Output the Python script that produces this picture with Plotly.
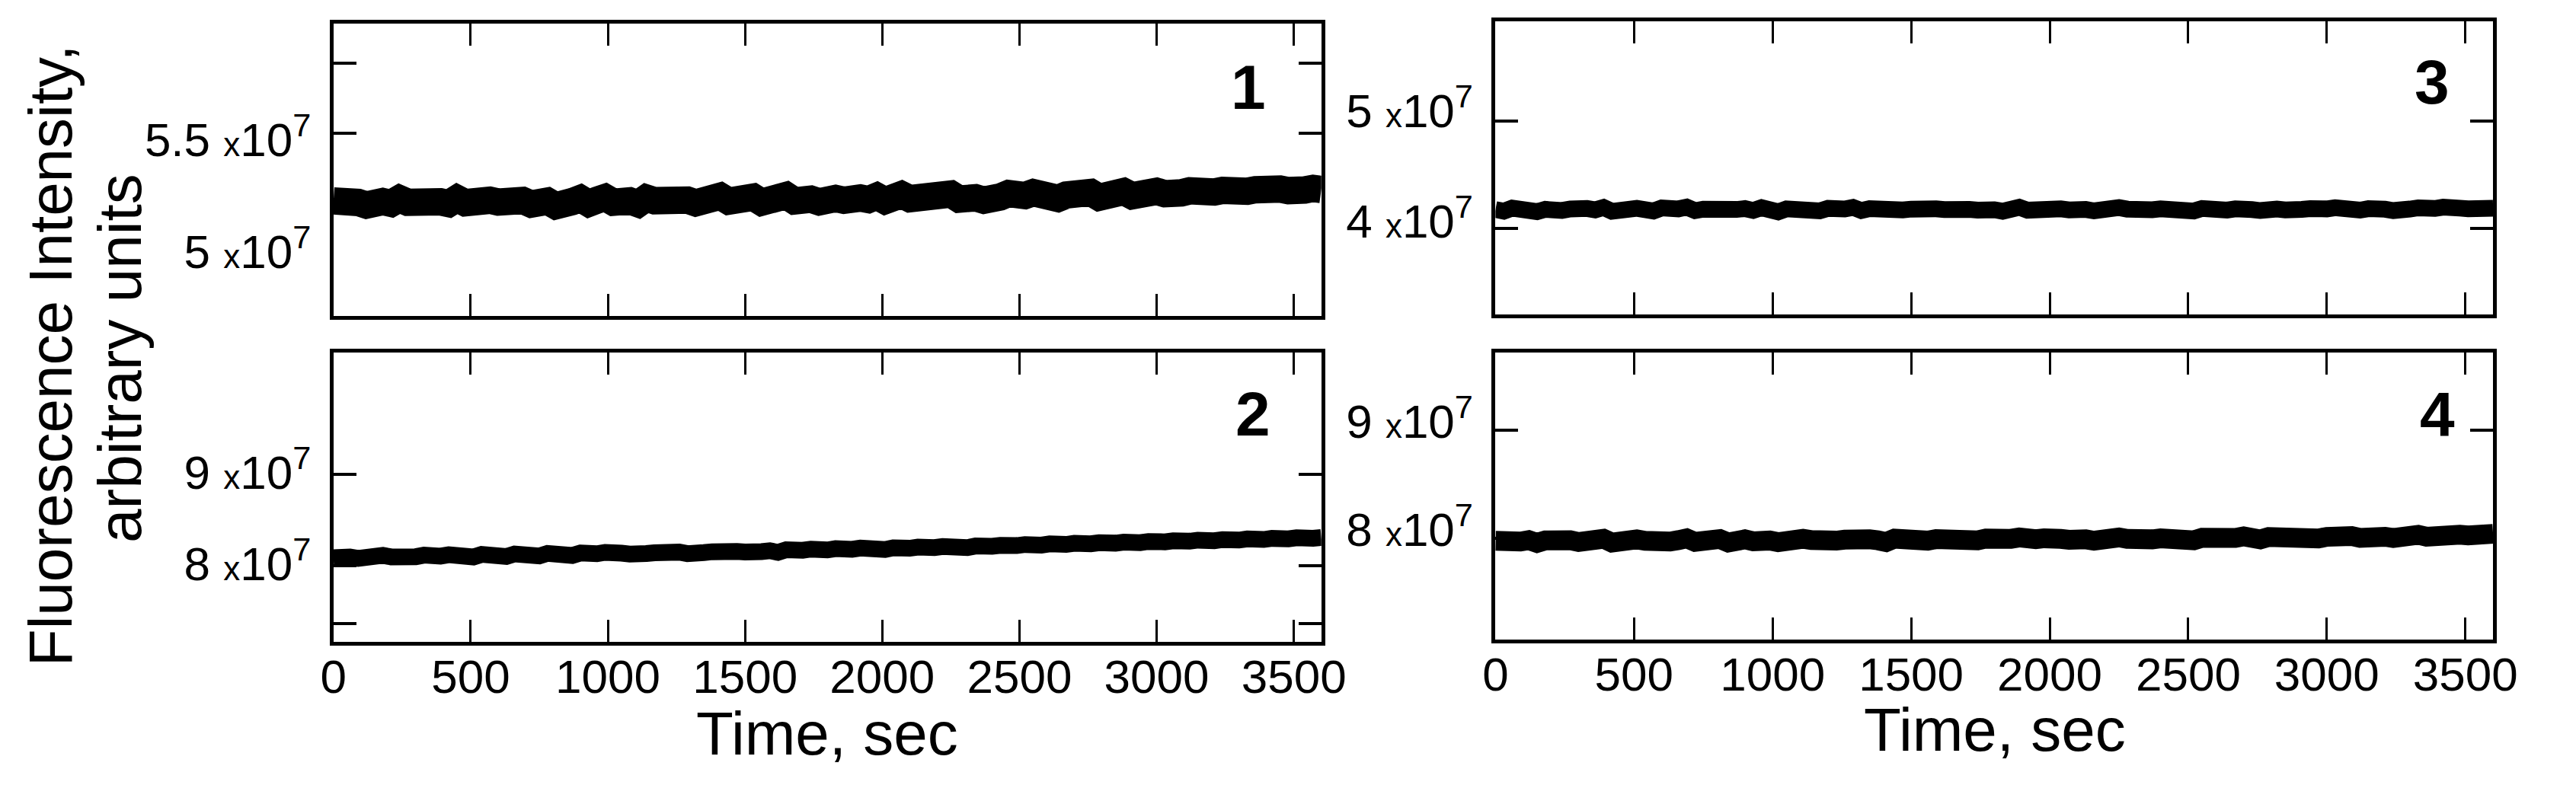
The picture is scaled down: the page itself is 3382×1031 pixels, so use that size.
import plotly.graph_objs as go

# fluorescence traces, in units of 1e7, one sample every DT seconds
SCALE = 1e7
DT = 30

trace_1 = [
    5.225, 5.212, 5.231, 5.218, 5.206, 5.229, 5.222, 5.214, 5.235, 5.219,
    5.224, 5.208, 5.230, 5.221, 5.213, 5.236, 5.217, 5.226, 5.210, 5.228,
    5.220, 5.233, 5.215, 5.227, 5.211, 5.229, 5.224, 5.203, 5.231, 5.222,
    5.236, 5.214, 5.228, 5.240, 5.219, 5.230, 5.225, 5.212, 5.238, 5.226,
    5.233, 5.221, 5.244, 5.229, 5.216, 5.237, 5.231, 5.246, 5.224, 5.235,
    5.228, 5.242, 5.219, 5.236, 5.230, 5.249, 5.225, 5.239, 5.233, 5.221,
    5.244, 5.236, 5.228, 5.251, 5.238, 5.231, 5.246, 5.226, 5.240, 5.253,
    5.235, 5.244, 5.229, 5.248, 5.241, 5.256, 5.233, 5.245, 5.239, 5.228,
    5.252, 5.243, 5.258, 5.237, 5.249, 5.262, 5.244, 5.255, 5.236, 5.251,
    5.259, 5.246, 5.263, 5.241, 5.257, 5.250, 5.267, 5.248, 5.260, 5.254,
    5.268, 5.257, 5.273, 5.261, 5.270, 5.258, 5.276, 5.265, 5.272, 5.260,
    5.279, 5.268, 5.275, 5.284, 5.266, 5.278, 5.271, 5.287, 5.274, 5.281, 5.276,
]

trace_2 = [
    8.062, 8.081, 8.070, 8.055, 8.078, 8.066, 8.089, 8.072, 8.060, 8.083,
    8.074, 8.091, 8.068, 8.080, 8.095, 8.077, 8.086, 8.071, 8.099, 8.084,
    8.092, 8.076, 8.104, 8.088, 8.097, 8.082, 8.110, 8.093, 8.101, 8.087,
    8.115, 8.098, 8.106, 8.121, 8.094, 8.112, 8.103, 8.126, 8.108, 8.117,
    8.131, 8.112, 8.124, 8.107, 8.135, 8.119, 8.128, 8.141, 8.116, 8.132,
    8.125, 8.146, 8.130, 8.139, 8.121, 8.150, 8.136, 8.144, 8.157, 8.133,
    8.148, 8.162, 8.141, 8.155, 8.168, 8.147, 8.160, 8.152, 8.171, 8.158,
    8.166, 8.179, 8.161, 8.174, 8.185, 8.167, 8.180, 8.173, 8.191, 8.176,
    8.188, 8.198, 8.182, 8.195, 8.207, 8.189, 8.201, 8.214, 8.196, 8.208,
    8.220, 8.203, 8.215, 8.227, 8.209, 8.222, 8.233, 8.214, 8.228, 8.240,
    8.224, 8.236, 8.247, 8.229, 8.243, 8.255, 8.237, 8.249, 8.261, 8.244,
    8.256, 8.268, 8.250, 8.262, 8.274, 8.258, 8.269, 8.281, 8.263, 8.275, 8.284,
]

trace_3 = [
    4.102, 4.088, 4.115, 4.097, 4.109, 4.083, 4.104, 4.118, 4.094, 4.107,
    4.091, 4.112, 4.099, 4.121, 4.086, 4.105, 4.096, 4.113, 4.101, 4.089,
    4.117, 4.095, 4.108, 4.124, 4.092, 4.106, 4.099, 4.115, 4.087, 4.103,
    4.111, 4.094, 4.119, 4.100, 4.081, 4.108, 4.097, 4.116, 4.104, 4.090,
    4.113, 4.098, 4.107, 4.122, 4.093, 4.110, 4.101, 4.085, 4.114, 4.099,
    4.106, 4.118, 4.095, 4.109, 4.102, 4.091, 4.116, 4.104, 4.097, 4.112,
    4.100, 4.087, 4.110, 4.123, 4.096, 4.105, 4.114, 4.092, 4.108, 4.099,
    4.117, 4.103, 4.090, 4.111, 4.098, 4.120, 4.106, 4.094, 4.113, 4.101,
    4.109, 4.096, 4.118, 4.104, 4.089, 4.112, 4.100, 4.115, 4.097, 4.108,
    4.121, 4.102, 4.093, 4.114, 4.106, 4.099, 4.117, 4.104, 4.111, 4.095,
    4.108, 4.119, 4.101, 4.113, 4.097, 4.110, 4.122, 4.105, 4.093, 4.116,
    4.107, 4.118, 4.100, 4.112, 4.124, 4.103, 4.115, 4.109, 4.120, 4.106, 4.114,
]

trace_4 = [
    7.892, 7.878, 7.905, 7.886, 7.899, 7.873, 7.896, 7.910, 7.884, 7.898,
    7.881, 7.903, 7.889, 7.912, 7.876, 7.897, 7.887, 7.906, 7.893, 7.879,
    7.908, 7.886, 7.899, 7.915, 7.883, 7.902, 7.891, 7.909, 7.877, 7.898,
    7.906, 7.888, 7.914, 7.895, 7.880, 7.904, 7.893, 7.911, 7.899, 7.885,
    7.909, 7.894, 7.903, 7.918, 7.888, 7.906, 7.897, 7.881, 7.912, 7.899,
    7.905, 7.917, 7.894, 7.908, 7.901, 7.889, 7.915, 7.903, 7.896, 7.913,
    7.902, 7.889, 7.911, 7.924, 7.897, 7.907, 7.916, 7.893, 7.910, 7.902,
    7.920, 7.906, 7.893, 7.915, 7.902, 7.924, 7.910, 7.898, 7.918, 7.906,
    7.915, 7.902, 7.925, 7.911, 7.897, 7.921, 7.909, 7.926, 7.908, 7.919,
    7.933, 7.914, 7.905, 7.928, 7.920, 7.913, 7.934, 7.921, 7.929, 7.914,
    7.929, 7.941, 7.923, 7.936, 7.920, 7.934, 7.947, 7.930, 7.918, 7.942,
    7.935, 7.948, 7.930, 7.943, 7.956, 7.936, 7.949, 7.942, 7.955, 7.944, 7.957,
]

panel_labels = ["1", "2", "3", "4"]
x_ticks = [0, 500, 1000, 1500, 2000, 2500, 3000, 3500]
y_label_ticks = [[5.0, 5.5], [8, 9], [4, 5], [8, 9]]
y_label_text = [["5", "5.5"], ["8", "9"], ["4", "5"], ["8", "9"]]

W, H = 3382, 1031
FONT = "Liberation Sans"


def dom_x(left, right):
    return [left / W, right / W]


def dom_y(top, bottom):
    return [1 - bottom / H, 1 - top / H]


def exp_label(m):
    return f"{m} <span style='font-size:44px'>x</span>10<sup>7</sup>"


def note(text, px, py, size, angle=0):
    return dict(
        text=text,
        x=px / W,
        y=1 - py / H,
        xref="paper",
        yref="paper",
        xanchor="center",
        yanchor="middle",
        textangle=angle,
        showarrow=False,
        font=dict(size=size, family=FONT, color="black"),
    )


# pixel boxes of the four panels (left, right, top, bottom)
boxes = [
    (427, 1743, 31, 415),
    (427, 1743, 463, 843),
    (1975, 3304, 28, 413),
    (1975, 3304, 463, 840),
]
y_ranges = [(4.711, 6.017), (7.142, 10.308), (3.152, 5.807), (6.979, 9.634)]
y_marks = [[5.527, 5.840], [7.342, 7.975, 8.975], [3.931, 4.903], [7.915, 8.915]]
line_widths = [36, 22, 22, 26]

traces = []
for i, vals in enumerate([trace_1, trace_2, trace_3, trace_4]):
    traces.append(
        go.Scatter(
            x0=0,
            dx=DT,
            y=[v * SCALE for v in vals],
            mode="lines",
            line=dict(color="black", width=line_widths[i]),
            xaxis=f"x{i + 1}" if i else "x",
            yaxis=f"y{i + 1}" if i else "y",
            hoverinfo="skip",
        )
    )

layout = go.Layout(
    width=W,
    height=H,
    margin=dict(l=0, r=0, t=0, b=0),
    paper_bgcolor="white",
    plot_bgcolor="white",
    showlegend=False,
    font=dict(family=FONT, color="black", size=62),
)

for i, (l, r, t, b) in enumerate(boxes):
    key = "" if i == 0 else str(i + 1)
    bottom_row = i in (1, 3)
    layout[f"xaxis{key}"] = dict(
        domain=dom_x(l, r),
        anchor=f"y{key}",
        range=[0, 3600],
        tickmode="array",
        tickvals=x_ticks,
        ticktext=[str(v) for v in x_ticks],
        showticklabels=bottom_row,
        ticks="inside",
        ticklen=29,
        tickwidth=3,
        tickcolor="black",
        showline=True,
        linecolor="black",
        linewidth=5,
        mirror="allticks",
        showgrid=False,
        zeroline=False,
        tickfont=dict(size=62, family=FONT),
        ticklabelstandoff=-12,
    )
    layout[f"yaxis{key}"] = dict(
        domain=dom_y(t, b),
        anchor=f"x{key}",
        range=[y_ranges[i][0] * SCALE, y_ranges[i][1] * SCALE],
        tickmode="array",
        tickvals=[v * SCALE for v in y_label_ticks[i]],
        ticktext=[exp_label(s) for s in y_label_text[i]],
        ticks="",
        showline=True,
        linecolor="black",
        linewidth=5,
        mirror="allticks",
        showgrid=False,
        zeroline=False,
        tickfont=dict(size=62, family=FONT),
        ticklabelstandoff=12,
        minor=dict(
            tickmode="array",
            tickvals=[v * SCALE for v in y_marks[i]],
            ticks="inside",
            ticklen=30,
            tickwidth=4,
            tickcolor="black",
            showgrid=False,
        ),
    )

annotations = []
# panel numbers
number_pos = [(1646, 115), (1652, 543), (3223, 108), (3230, 543)]
for lab, (px, py) in zip(panel_labels, number_pos):
    annotations.append(note(f"<b>{lab}</b>", px, py, 82))

# axis titles
annotations.append(note("Time, sec", 1085, 963, 80))
annotations.append(note("Time, sec", 2640, 958, 80))
annotations.append(note("Fluorescence Intensity,", 50, 467, 80, -90))
annotations.append(note("arbitrary units", 142, 470, 80, -90))

layout["annotations"] = annotations

fig = go.Figure(data=traces, layout=layout)
fig.write_html(
    "out.html",
    config={"displayModeBar": False},
    post_script="document.body.style.margin = '0px';",
)
